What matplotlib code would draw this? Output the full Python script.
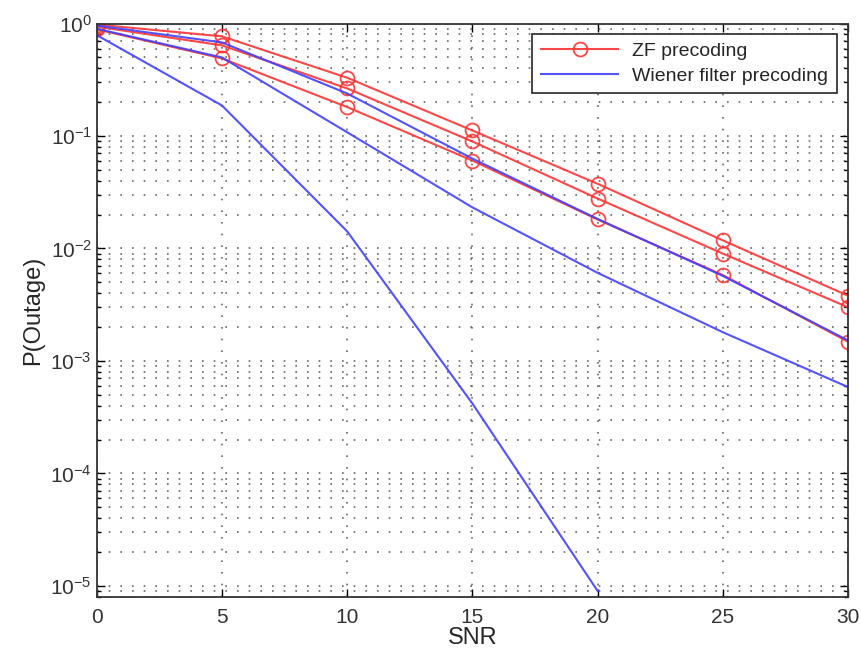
import matplotlib
matplotlib.use("Agg")
import matplotlib.pyplot as plt
from matplotlib.ticker import LogLocator, NullFormatter

plt.rcParams['font.family'] = ['Liberation Sans', 'DejaVu Sans']
plt.rcParams['mathtext.fontset'] = 'custom'
plt.rcParams['mathtext.rm'] = 'Liberation Sans'
plt.rcParams['mathtext.it'] = 'Liberation Sans:italic'
plt.rcParams['mathtext.bf'] = 'Liberation Sans:bold'

snr = [0, 5, 10, 15, 20, 25, 30]

zf_1 = [0.98, 0.77, 0.33, 0.112, 0.0376, 0.0118, 0.0038]
zf_2 = [0.94, 0.64, 0.265, 0.0895, 0.0278, 0.0090, 0.0030]
zf_3 = [0.89, 0.49, 0.181, 0.0605, 0.0181, 0.0058, 0.00148]

wiener_1 = [0.96, 0.68, 0.239, 0.063, 0.0183, 0.0057, 0.00152]
wiener_2 = [0.90, 0.50, 0.108, 0.0232, 0.00607, 0.0018, 0.000585]
wiener_snr_3 = [0, 5, 10, 15, 20]
wiener_3 = [0.79, 0.187, 0.0142, 0.000418, 9.0e-6]

fig = plt.figure(figsize=(8.61, 6.55), dpi=100)
ax = fig.add_axes([0.1123, 0.089, 0.8727, 0.875])

red = (1.0, 0.2, 0.2)
blue = (0.25, 0.25, 1.0)

for i, z in enumerate([zf_1, zf_2, zf_3]):
    ax.plot(snr, z, color=red, lw=1.5, marker='o', ms=10, mfc='none',
            mec=red, mew=1.3, alpha=0.9, label='ZF precoding' if i == 0 else None)
for i, (xs, w) in enumerate([(snr, wiener_1), (snr, wiener_2), (wiener_snr_3, wiener_3)]):
    ax.plot(xs, w, color=blue, lw=1.5, alpha=0.9,
            label='Wiener filter precoding' if i == 0 else None)

ax.set_yscale('log')
ax.set_xlim(0, 30)
ax.set_ylim(8e-6, 1)
ax.set_xticks([0, 5, 10, 15, 20, 25, 30])
ax.yaxis.set_major_locator(LogLocator(base=10, numticks=10))
ax.yaxis.set_minor_locator(LogLocator(base=10, subs=range(2, 10), numticks=20))
ax.yaxis.set_minor_formatter(NullFormatter())

ax.grid(True, which='major', axis='both', color='0.4', ls=(0, (1, 6)), lw=1.2)
ax.grid(True, which='minor', axis='y', color='0.4', ls=(0, (1, 6)), lw=1.2)

ax.tick_params(which='both', direction='in', top=True, right=True, labelsize=15,
               width=1.0, labelcolor='0.2')
ax.tick_params(which='major', length=6)
ax.tick_params(which='minor', length=3)
ax.tick_params(axis='x', pad=8)
for s in ax.spines.values():
    s.set_linewidth(1.3)
    s.set_color('0.2')

ax.set_xlabel('SNR', fontsize=17, labelpad=0, color='0.15')
ax.set_ylabel('P(Outage)', fontsize=17, labelpad=4, color='0.15')

leg = ax.legend(loc='upper right', fontsize=14, fancybox=False, framealpha=1,
                edgecolor='0.15', handlelength=4.0, handletextpad=0.7,
                borderpad=0.45, labelspacing=0.35, borderaxespad=0,
                bbox_to_anchor=(0.985, 0.982))
leg.get_frame().set_linewidth(1.2)
for t in leg.get_texts():
    t.set_color('0.15')

fig.savefig('out.png', dpi=100)
